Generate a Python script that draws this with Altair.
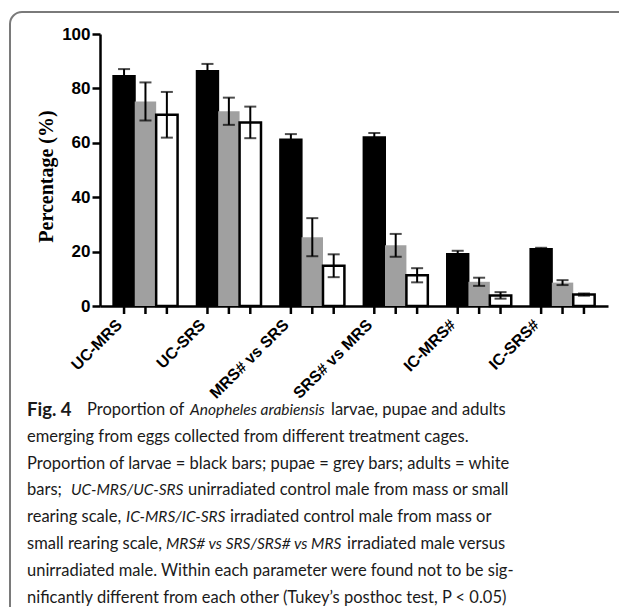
import altair as alt
import pandas as pd

groups = ["UC-MRS", "UC-SRS", "MRS# vs SRS", "SRS# vs MRS", "IC-MRS#", "IC-SRS#"]
series = ["Larvae", "Pupae", "Adults"]
larvae = [84.6, 86.4, 61.2, 62.0, 19.1, 21.0]
larvae_err = [2.5, 2.6, 2.0, 1.6, 1.2, 0.4]
pupae = [75.2, 71.6, 25.3, 22.3, 8.9, 8.6]
pupae_err = [7.0, 5.0, 7.0, 4.2, 1.5, 0.9]
adults = [70.3, 67.5, 14.8, 11.3, 3.9, 4.2]
adults_err = [8.4, 5.8, 4.2, 2.6, 1.2, 0.4]
y_ticks = [0, 20, 40, 60, 80, 100]

rows = []
for s, vals, errs in zip(series, [larvae, pupae, adults], [larvae_err, pupae_err, adults_err]):
    for g, v, e in zip(groups, vals, errs):
        rows.append({"group": g, "series": s, "value": v, "lo": v - e, "hi": v + e})
df = pd.DataFrame(rows)

W, H = 508, 272
OX, OY = 100, 34  # plot origin in page coords

xaxis = alt.Axis(title=None, ticks=False, domainWidth=2.5, domainColor="black",
                 labelAngle=315, labelAlign="right", labelBaseline="middle",
                 labelFont="Liberation Sans", labelFontWeight="bold", labelFontSize=16,
                 labelColor="black", labelPadding=16, labelOffset=-26)
yaxis = alt.Axis(values=y_ticks, title="Percentage (%)", grid=False,
                 domainWidth=2.5, domainColor="black", tickWidth=2.5, tickSize=8,
                 tickColor="black", labelFont="Liberation Sans", labelFontWeight="bold",
                 labelFontSize=17, labelColor="black", labelPadding=2,
                 titleFont="Liberation Serif", titleFontWeight="bold", titleFontSize=20,
                 titleColor="black", titleAngle=270, titleAlign="center",
                 titleBaseline="middle", titleX=-54, titleY=142)
xenc = alt.X("group:N", sort=groups,
             scale=alt.Scale(paddingInner=0.23, paddingOuter=0.16), axis=xaxis)
xoff = alt.XOffset("series:N", sort=series,
                   scale=alt.Scale(domain=series, paddingInner=0, paddingOuter=0))
yscale = alt.Scale(domain=[0, 100], nice=False)
yenc = alt.Y("value:Q", scale=yscale, axis=yaxis)

base = alt.Chart(df)

bar_styles = {
    "Larvae": dict(fill="black", stroke="black", strokeWidth=2),
    "Pupae": dict(fill="#a0a0a0", strokeWidth=0),
    "Adults": dict(fill="white", stroke="black", strokeWidth=2.5),
}
bar_layers = []
for s in series:
    bar_layers.append(
        base.transform_filter(alt.datum.series == s).mark_bar(**bar_styles[s]).encode(
            x=xenc, xOffset=xoff, y=yenc)
    )

err = base.mark_rule(color="black", strokeWidth=2).encode(
    x=xenc, xOffset=xoff, y=alt.Y("lo:Q", scale=yscale, axis=yaxis), y2="hi:Q")
cap_lo = base.mark_tick(color="black", thickness=2, size=12).encode(
    x=xenc, xOffset=xoff, y=alt.Y("lo:Q", scale=yscale, axis=yaxis))
cap_hi = base.mark_tick(color="black", thickness=2, size=12).encode(
    x=xenc, xOffset=xoff, y=alt.Y("hi:Q", scale=yscale, axis=yaxis))
xticks = base.mark_rule(color="black", strokeWidth=2.5).encode(
    x=xenc, xOffset=xoff, y=alt.value(H), y2=alt.value(H + 8))

dummy = alt.Data(values=[{}])
border = alt.Chart(dummy).mark_rect(fill=None, fillOpacity=0, stroke="#7a7a7a", strokeWidth=2,
                                    cornerRadius=12).encode(
    x=alt.value(10 - OX), x2=alt.value(800), y=alt.value(12 - OY), y2=alt.value(800))

# caption segments: (line index, x in page px, text, style)
caption = [
    (0, 27, "Fig. 4", "bold"),
    (0, 87, "Proportion of", "normal"),
    (0, 190, "Anopheles arabiensis", "italic"),
    (0, 331, "larvae, pupae and adults", "normal"),
    (1, 27, "emerging from eggs collected from different treatment cages.", "normal"),
    (2, 27, "Proportion of larvae = black bars; pupae = grey bars; adults = white", "normal"),
    (3, 27, "bars;", "normal"),
    (3, 71, "UC-MRS/UC-SRS", "italic"),
    (3, 188, "unirradiated control male from mass or small", "normal"),
    (4, 27, "rearing scale,", "normal"),
    (4, 126, "IC-MRS/IC-SRS", "italic"),
    (4, 230, "irradiated control male from mass or", "normal"),
    (5, 27, "small rearing scale,", "normal"),
    (5, 166, "MRS# vs SRS/SRS# vs MRS", "italic"),
    (5, 347, "irradiated male versus", "normal"),
    (6, 27, "unirradiated male. Within each parameter were found not to be sig-", "normal"),
    (7, 27, "nificantly different from each other (Tukey\u2019s posthoc test, P < 0.05)", "normal"),
]
line_y0, line_dy = 410, 26.8

texts = []
for li, xp, t, st in caption:
    kw = dict(text=t, font="Lato", fontSize=16.5, align="left", baseline="middle", color="#1a1a1a")
    if st == "bold":
        kw["fontWeight"] = "bold"
        kw["fontSize"] = 18.5
    if st == "italic":
        kw["fontStyle"] = "italic"
        kw["fontSize"] = 15.5
    texts.append(alt.Chart(dummy).mark_text(**kw).encode(
        x=alt.value(xp - OX), y=alt.value(line_y0 + li * line_dy - OY)))

chart = alt.layer(border, *bar_layers, err, cap_lo, cap_hi, xticks, *texts).properties(
    width=W, height=H,
    padding={"left": OX - 8, "top": OY - 8, "right": 611 - (OX - 8) - W, "bottom": 599 - (OY - 8) - H},
    autosize=alt.AutoSizeParams(type="none"),
).configure(background="white").configure_view(stroke=None)

chart.save("out.html", embed_options={"renderer": "svg", "actions": False})
